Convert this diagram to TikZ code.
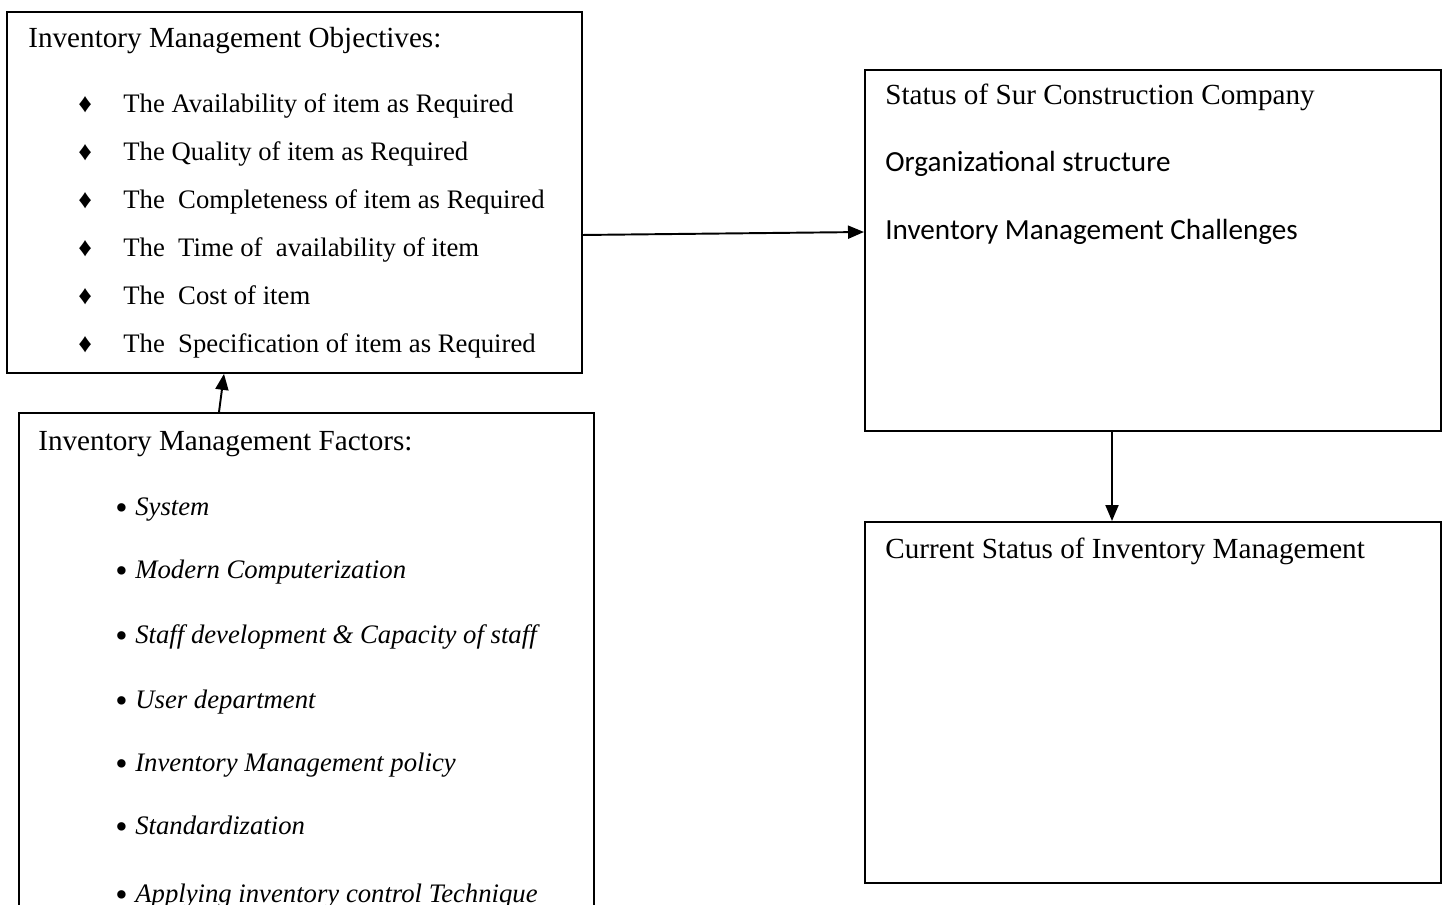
\documentclass[tikz,border=0pt]{standalone}
\usepackage{fontspec}
\setmainfont{Liberation Serif}
\newfontfamily\calibri{Carlito}
\usetikzlibrary{positioning,arrows.meta,calc}

\begin{document}
\begin{tikzpicture}[x=0.02cm,y=-0.02cm,
    box/.style={draw,line width=1.1pt,anchor=north west,inner sep=0pt,minimum width=11.5cm,minimum height=7.22cm},
    txt/.style={anchor=base west,inner sep=0pt,font=\fontsize{16.6}{20}\selectfont},
    item/.style={anchor=base west,inner sep=0pt,font=\fontsize{15.2}{18}\selectfont},
    arr/.style={-{Triangle[length=0.32cm,width=0.26cm]},line width=1.1pt}
  ]
    \clip (0,0) rectangle (1446,905);
    \node[box] (obj) at (6,11) {};
    \node[txt] (objt) at ($(obj.north west)+(22,37)$) {Inventory Management Objectives:};
    \foreach \i/\t in {0/The Availability of item as Required,1/The Quality of item as Required,2/The\ \ Completeness of item as Required,3/The\ \ Time of\ \ availability of item,4/The\ \ Cost of item,5/The\ \ Specification of item as Required}{
      \node[item] (od\i) at ($(obj.north west)+(72,102+48*\i)$) {♦};
      \node[item] (o\i) at ($(obj.north west)+(117,102+48*\i)$) {\t};
    }
    \node[box,minimum height=10.6cm] (fac) at (18,412) {};
    \node[txt] (fact) at ($(fac.north west)+(20,38)$) {Inventory Management Factors:};
    \foreach \i/\y/\t in {0/103/System,1/166/Modern Computerization,2/231/Staff development \& Capacity of staff,3/296/User department,4/359/Inventory Management policy,5/422/Standardization,6/490/Applying inventory control Technique}{
      \node[item,font=\fontsize{20}{20}\selectfont] (fd\i) at ($(fac.north west)+(97,\y+4)$) {•};
      \node[item,font=\fontsize{15.2}{18}\selectfont\itshape] (f\i) at ($(fac.north west)+(117,\y)$) {\t};
    }
    \node[box,minimum width=11.52cm] (stat) at (864,69) {};
    \node[txt] (statt) at ($(stat.north west)+(21,36)$) {Status of Sur Construction Company};
    \node[txt,font=\fontsize{16.6}{20}\calibri] (org) at ($(stat.north west)+(21,103)$) {Organizational structure};
    \node[txt,font=\fontsize{16.6}{20}\calibri] (chal) at ($(stat.north west)+(21,171)$) {Inventory Management Challenges};
    \node[box,minimum width=11.52cm] (cur) at (864,521) {};
    \node[txt] (curt) at ($(cur.north west)+(21,37)$) {Current Status of Inventory Management};
    \draw[arr] ($(obj.north west)+(575,224)$) -- ($(stat.north west)+(0,163)$);
    \draw[arr] ($(fac.north west)+(201,0)$) -- ($(obj.south west)+(218,0)$);
    \draw[arr] ($(stat.south west)+(248,0)$) -- ($(cur.north west)+(248,0)$);
  \end{tikzpicture}
\end{document}
